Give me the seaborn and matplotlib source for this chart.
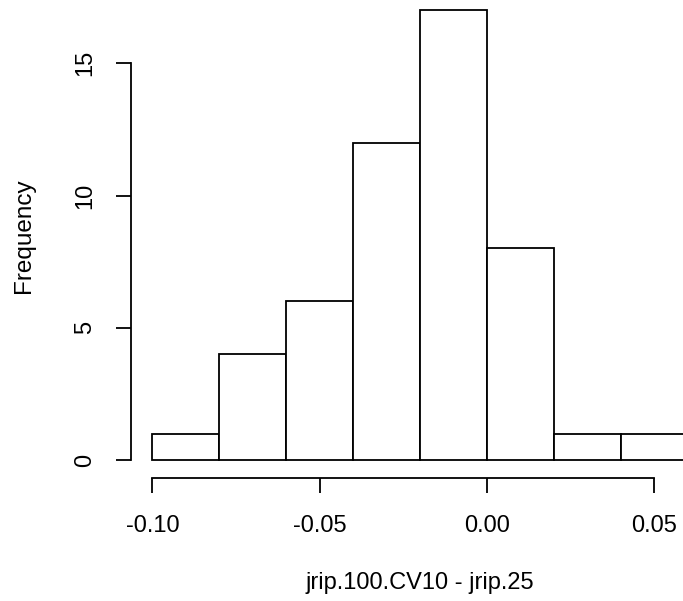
import numpy as np
import pandas as pd
import matplotlib
matplotlib.use("Agg")
import matplotlib.pyplot as plt
import seaborn as sns

# Histogram of the difference jrip.100.CV10 - jrip.25
bin_edges = [-0.10, -0.08, -0.06, -0.04, -0.02, 0.00, 0.02, 0.04, 0.06]
counts = [1, 4, 6, 12, 17, 8, 1, 1]
x_ticks = [-0.10, -0.05, 0.00, 0.05]
x_tick_labels = ["-0.10", "-0.05", "0.00", "0.05"]
y_ticks = [0, 5, 10, 15]
y_tick_labels = ["0", "5", "10", "15"]

sns.set_style("white")
plt.rcParams["font.family"] = ["Liberation Sans", "DejaVu Sans"]
plt.rcParams["text.color"] = "black"

W, H = 683, 601
fig = plt.figure(figsize=(W / 100, H / 100), dpi=100)

# plot region in pixels (may extend past the right/top of the canvas)
left_px, right_px, top_px, bottom_px = 131, 709, -7.6, 478
ax = fig.add_axes([left_px / W, 1 - bottom_px / H,
                   (right_px - left_px) / W, (bottom_px - top_px) / H])

centers = [(a + b) / 2 for a, b in zip(bin_edges[:-1], bin_edges[1:])]
df = pd.DataFrame({"diff": centers, "n": counts})
sns.histplot(data=df, x="diff", weights="n", bins=bin_edges, ax=ax,
             stat="count", fill=True, color="white", edgecolor="black",
             linewidth=1.3, alpha=1)

xr = bin_edges[-1] - bin_edges[0]
ax.set_xlim(bin_edges[0] - 0.04 * xr, bin_edges[-1] + 0.04 * xr)
ymax = max(counts)
ax.set_ylim(-0.04 * ymax, ymax * 1.04)

for s in ["top", "right"]:
    ax.spines[s].set_visible(False)
ax.spines["left"].set_bounds(y_ticks[0], y_ticks[-1])
ax.spines["bottom"].set_bounds(x_ticks[0], x_ticks[-1])
for s in ["left", "bottom"]:
    ax.spines[s].set_color("black")
    ax.spines[s].set_linewidth(1.3)

ax.set_xticks(x_ticks)
ax.set_xticklabels(x_tick_labels)
ax.set_yticks(y_ticks)
ax.set_yticklabels(y_tick_labels, rotation=90, va="center")
ax.tick_params(axis="both", direction="out", length=11, width=1.3,
               color="black", labelsize=17, labelcolor="black",
               bottom=True, left=True)
ax.tick_params(axis="x", pad=16)
ax.tick_params(axis="y", pad=14)
ax.set_xlabel("")
ax.set_ylabel("")

fig.text(420 / W, 1 - 583 / H, "jrip.100.CV10 - jrip.25", ha="center",
         va="center", fontsize=17, color="black")
fig.text(24 / W, 1 - 236 / H, "Frequency", ha="center", va="center",
         rotation=90, fontsize=17.5, color="black")

fig.savefig("out.png", dpi=100, facecolor="white")
